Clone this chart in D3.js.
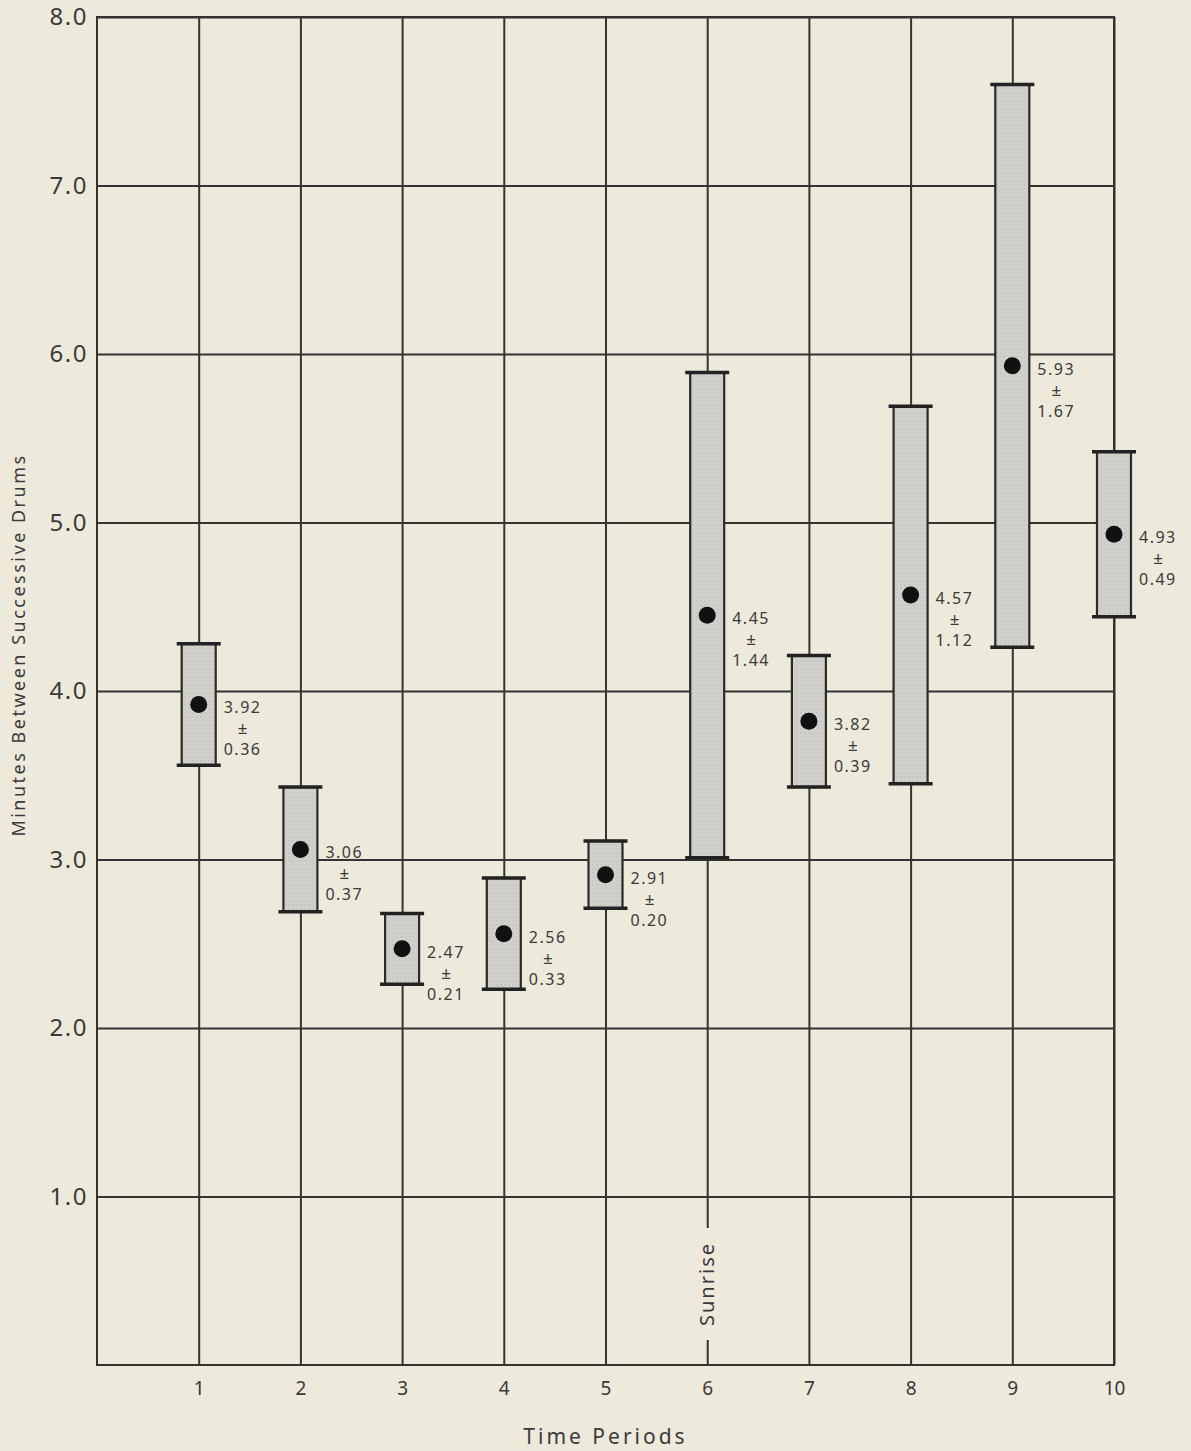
<!DOCTYPE html>
<html>
<head>
<meta charset="utf-8">
<script src="https://cdn.jsdelivr.net/npm/d3@7"></script>
<style>
  html, body { margin: 0; padding: 0; background: #ede9db; }
  svg { display: block; }
  text { font-family: "Noto Sans", "DejaVu Sans", sans-serif; fill: #3a3a3a; }
</style>
</head>
<body>
<svg id="chart" width="1191" height="1451"></svg>
<script>
// Time periods (x categories)
const periods = [1, 2, 3, 4, 5, 6, 7, 8, 9, 10];
// Mean minutes between successive drums per period
const means = [3.92, 3.06, 2.47, 2.56, 2.91, 4.45, 3.82, 4.57, 5.93, 4.93];
// Plus/minus interval around each mean
const errors = [0.36, 0.37, 0.21, 0.33, 0.20, 1.44, 0.39, 1.12, 1.67, 0.49];
// Y-axis tick values
const yTicks = [1, 2, 3, 4, 5, 6, 7, 8];
// Period at which sunrise is marked
const sunrisePeriod = 6;

const svg = d3.select("#chart");
const plotL = 97, plotR = 1114, plotT = 17, plotB = 1365;
const ink = "#333";
const bg = "#ede9db";

// Stippled grey fill for the interval boxes
const defs = svg.append("defs");
const pat = defs.append("pattern")
  .attr("id", "stipple").attr("patternUnits", "userSpaceOnUse")
  .attr("width", 4).attr("height", 4);
pat.append("rect").attr("width", 4).attr("height", 4).attr("fill", "#d3d1cc");
pat.append("circle").attr("cx", 1).attr("cy", 1).attr("r", 0.7).attr("fill", "#b9b7b2");
pat.append("circle").attr("cx", 3).attr("cy", 3).attr("r", 0.5).attr("fill", "#c4c2bd");

const x = d3.scaleLinear().domain([0, 10]).range([plotL, plotR]);
const y = d3.scaleLinear().domain([0, 8]).range([plotB, plotT]);

// Horizontal grid + y labels
const yAxis = svg.append("g")
  .attr("transform", `translate(${plotL},0)`)
  .call(d3.axisLeft(y).tickValues(yTicks).tickFormat(d3.format(".1f"))
    .tickSizeInner(-(plotR - plotL)).tickSizeOuter(0).tickPadding(9));
yAxis.select(".domain").remove();
yAxis.selectAll(".tick line").attr("stroke", ink).attr("stroke-width", 2);
yAxis.selectAll(".tick text").attr("font-size", 24).attr("fill", "#3a3a3a")
  .attr("letter-spacing", 1.5)
  .style("font-family", '"Noto Sans", sans-serif');

// Vertical grid + x labels
const xAxis = svg.append("g")
  .attr("transform", `translate(0,${plotB})`)
  .call(d3.axisBottom(x).tickValues(periods).tickFormat(d3.format("d"))
    .tickSizeInner(-(plotB - plotT)).tickSizeOuter(0).tickPadding(17));
xAxis.select(".domain").remove();
xAxis.selectAll(".tick line").attr("stroke", ink).attr("stroke-width", 2);
xAxis.selectAll(".tick text").attr("font-size", 19).attr("fill", "#3a3a3a")
  .style("font-family", '"Noto Sans", sans-serif');

// Frame
svg.append("rect")
  .attr("x", plotL).attr("y", plotT)
  .attr("width", plotR - plotL).attr("height", plotB - plotT)
  .attr("fill", "none").attr("stroke", ink).attr("stroke-width", 2);

// Sunrise marker on the period-6 line
const sx = x(sunrisePeriod), sy = 1284;
svg.append("rect")
  .attr("x", sx - 12).attr("y", sy - 56).attr("width", 24).attr("height", 112)
  .attr("fill", bg);
svg.append("text")
  .attr("transform", `translate(${sx + 7},${sy}) rotate(-90)`)
  .attr("text-anchor", "middle")
  .attr("font-size", 20)
  .attr("letter-spacing", 2)
  .text("Sunrise");

// Interval boxes
const data = periods.map((p, i) => ({ p, m: means[i], e: errors[i] }));
const halfW = 17, capHalf = 22;

const g = svg.append("g");
g.selectAll("rect.box").data(data).join("rect")
  .attr("class", "box")
  .attr("x", d => x(d.p) - halfW)
  .attr("y", d => y(d.m + d.e))
  .attr("width", halfW * 2)
  .attr("height", d => y(d.m - d.e) - y(d.m + d.e))
  .attr("fill", "url(#stipple)")
  .attr("stroke", "#2a2a2a")
  .attr("stroke-width", 2.2);

g.selectAll("line.capTop").data(data).join("line")
  .attr("class", "capTop")
  .attr("x1", d => x(d.p) - capHalf).attr("x2", d => x(d.p) + capHalf)
  .attr("y1", d => y(d.m + d.e)).attr("y2", d => y(d.m + d.e))
  .attr("stroke", "#222").attr("stroke-width", 3.5);
g.selectAll("line.capBot").data(data).join("line")
  .attr("class", "capBot")
  .attr("x1", d => x(d.p) - capHalf).attr("x2", d => x(d.p) + capHalf)
  .attr("y1", d => y(d.m - d.e)).attr("y2", d => y(d.m - d.e))
  .attr("stroke", "#222").attr("stroke-width", 3.5);

g.selectAll("circle.mean").data(data).join("circle")
  .attr("class", "mean")
  .attr("cx", d => x(d.p)).attr("cy", d => y(d.m))
  .attr("r", 8.5).attr("fill", "#111");

// Value labels: mean, ±, interval
const lbl = g.selectAll("g.lbl").data(data).join("g")
  .attr("class", "lbl")
  .attr("transform", d => `translate(${x(d.p) + halfW + 8},${y(d.m)})`);
lbl.append("text").attr("y", 9).attr("font-size", 16).attr("letter-spacing", 1.5)
  .text(d => d.m.toFixed(2));
lbl.append("text").attr("x", 19).attr("y", 30).attr("font-size", 17)
  .attr("text-anchor", "middle").text("±");
lbl.append("text").attr("y", 51).attr("font-size", 16).attr("letter-spacing", 1.5)
  .text(d => d.e.toFixed(2));

// Axis titles
svg.append("text")
  .attr("x", (plotL + plotR) / 2).attr("y", 1444)
  .attr("text-anchor", "middle").attr("font-size", 21).attr("letter-spacing", 3)
  .text("Time Periods");
svg.append("text")
  .attr("transform", `translate(25,645) rotate(-90)`)
  .attr("text-anchor", "middle").attr("font-size", 18).attr("letter-spacing", 2.5)
  .text("Minutes Between Successive Drums");
</script>
</body>
</html>
